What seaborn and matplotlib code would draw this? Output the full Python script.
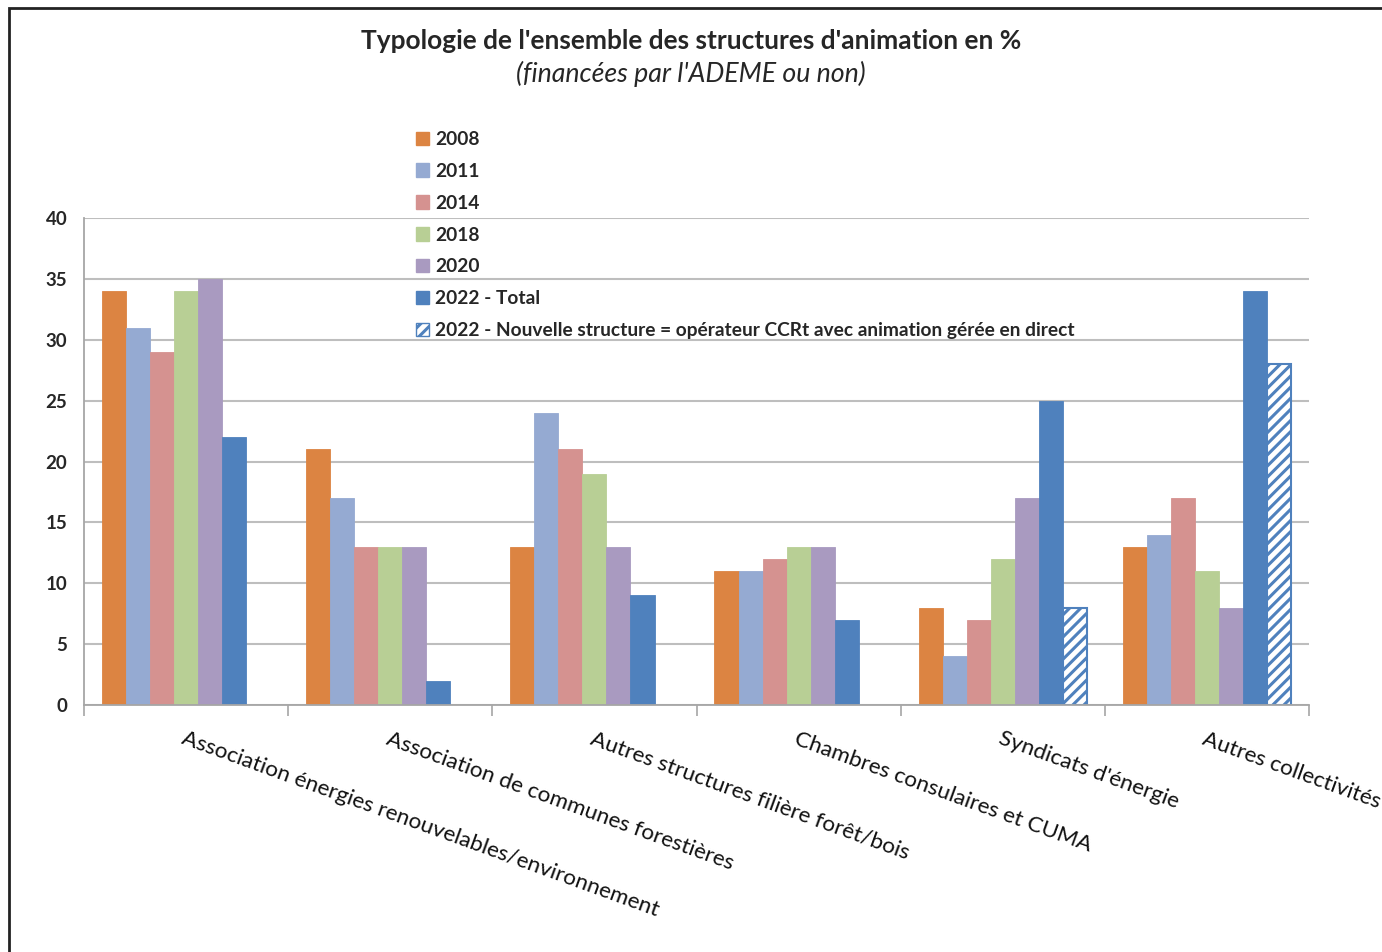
import numpy as np
import pandas as pd
import seaborn as sns
import matplotlib.pyplot as plt
from matplotlib.patches import Rectangle, Patch

# values
categories = ['Association énergies renouvelables/environnement',
              'Association de communes forestières',
              'Autres structures filière forêt/bois',
              'Chambres consulaires et CUMA',
              "Syndicats d'énergie",
              'Autres collectivités']
series = ['2008', '2011', '2014', '2018', '2020', '2022 - Total',
          '2022 - Nouvelle structure = opérateur CCRt avec animation gérée en direct']
v2008 = [34, 21, 13, 11, 8, 13]
v2011 = [31, 17, 24, 11, 4, 14]
v2014 = [29, 13, 21, 12, 7, 17]
v2018 = [34, 13, 19, 13, 12, 11]
v2020 = [35, 13, 13, 13, 17, 8]
v2022 = [22, 2, 9, 7, 25, 34]
v2022_new = [np.nan, np.nan, np.nan, np.nan, 8, 28]
colors = ['#DC8442', '#95AAD2', '#D59290', '#B8CF95', '#A99AC0', '#4F81BD', '#FFFFFF']

sns.set_theme(style='white')
plt.rcParams['font.family'] = ['Lato', 'DejaVu Sans']
plt.rcParams['hatch.linewidth'] = 2.2
plt.rcParams['hatch.color'] = '#4F81BD'

rows = []
for s, vals in zip(series, [v2008, v2011, v2014, v2018, v2020, v2022, v2022_new]):
    for c, v in zip(categories, vals):
        rows.append({'cat': c, 'serie': s, 'val': v})
df = pd.DataFrame(rows)

fig = plt.figure(figsize=(13.82, 9.52), dpi=100)
ax = fig.add_axes([84 / 1382, 1 - 705 / 952, (1309 - 84) / 1382, (705 - 218) / 952])

sns.barplot(data=df, x='cat', y='val', hue='serie', order=categories,
            hue_order=series, palette=colors, width=0.824, gap=0,
            saturation=1, legend=False, ax=ax)

for i, cont in enumerate(ax.containers):
    for bar in cont:
        bar.set_edgecolor(colors[i] if i < 6 else '#4F81BD')
        bar.set_linewidth(0.6)
for bar in ax.containers[-1]:
    bar.set_hatch('///')
    bar.set_linewidth(1.5)

ax.set_ylim(0, 40)
ax.set_xlim(-0.5, len(categories) - 0.5)
ax.set_yticks(range(0, 41, 5))
ax.yaxis.grid(True, color='#BEBEBE', lw=1.5)
ax.set_axisbelow(True)
ax.set_xlabel('')
ax.set_ylabel('')
for side in ['top', 'right']:
    ax.spines[side].set_visible(False)
for side in ['left', 'bottom']:
    ax.spines[side].set_color('#A6A6A6')
    ax.spines[side].set_linewidth(1.3)

ax.tick_params(axis='y', length=6, width=1.2, color='#A6A6A6', pad=6,
               labelsize=13.5)
for lbl in ax.get_yticklabels():
    lbl.set_fontweight('bold')

ax.set_xticks(np.arange(len(categories)))
ax.set_xticks(np.arange(len(categories) + 1) - 0.5, minor=True)
ax.tick_params(axis='x', which='major', length=0, pad=17, labelsize=16.2)
ax.tick_params(axis='x', which='minor', length=8, width=1.2, color='#A6A6A6',
               bottom=True)
ax.set_xticklabels(categories, rotation=-20, ha='left', va='top',
                   rotation_mode='anchor', color='#111111')

handles = [Patch(facecolor=c, edgecolor=c) for c in colors[:-1]]
handles.append(Patch(facecolor='white', edgecolor='#4F81BD', hatch='///'))
fig.legend(handles, series, loc='upper left',
           bbox_to_anchor=(416 / 1382, 1 - 131 / 952), frameon=False,
           prop={'weight': 'bold', 'size': 13.8}, handlelength=0.7,
           handleheight=0.7, handletextpad=0.3, labelspacing=0.775,
           borderaxespad=0, borderpad=0)

fig.text(0.5, 1 - 41 / 952, "Typologie de l'ensemble des structures d'animation en %",
         ha='center', va='center', fontsize=18.9, fontweight='bold')
fig.text(0.5, 1 - 74 / 952, "(financées par l'ADEME ou non)",
         ha='center', va='center', fontsize=19.3, style='italic')

fig.patches.append(Rectangle((9 / 1382, -0.1), 1.2, 1 - 8 / 952 + 0.1,
                             transform=fig.transFigure, fill=False,
                             lw=2, ec='#222222'))

fig.savefig('out.png', dpi=100)
